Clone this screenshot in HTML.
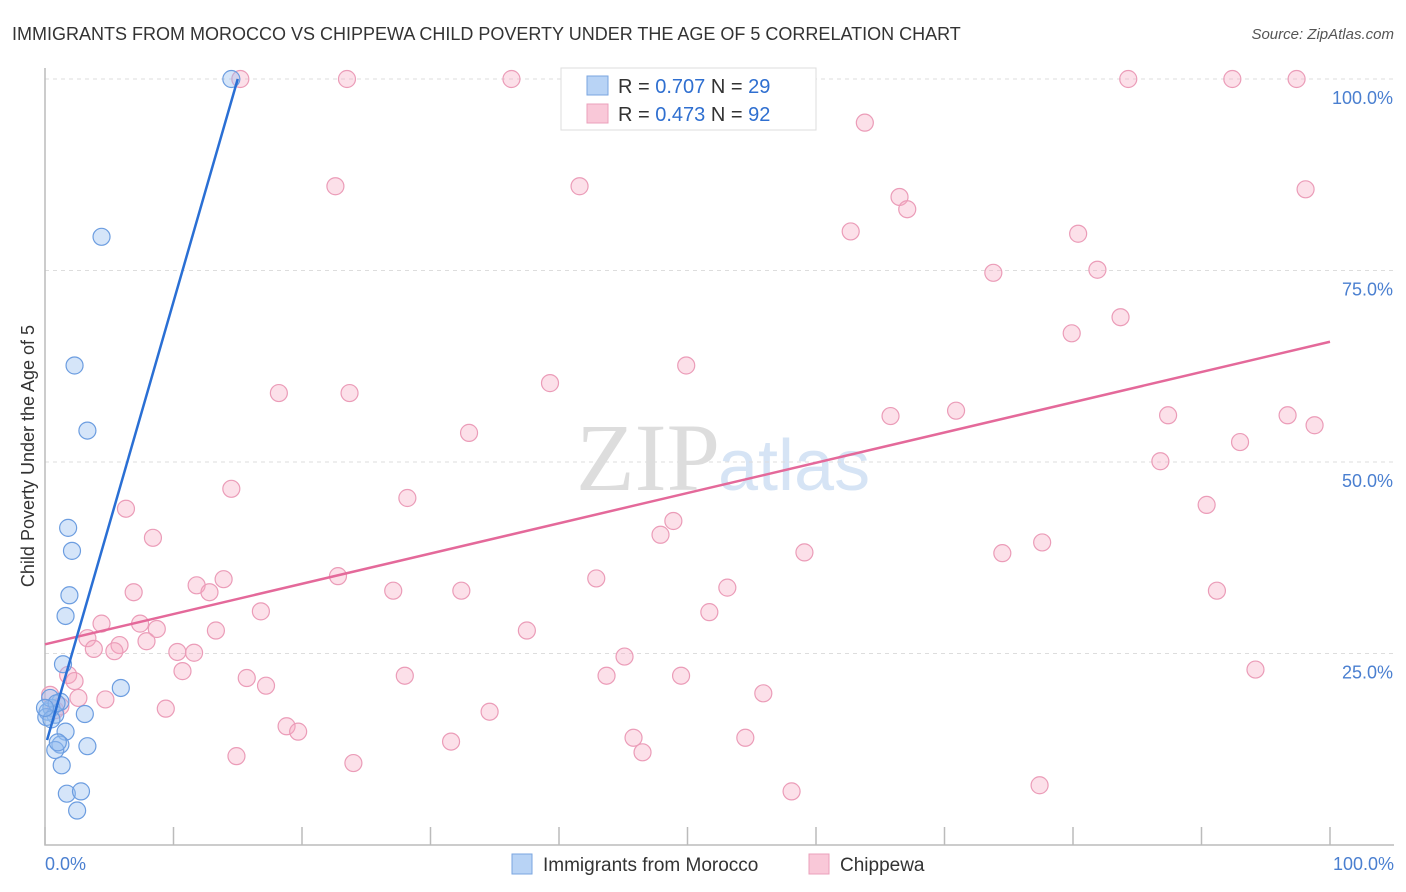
<!DOCTYPE html>
<html><head><meta charset="utf-8"><style>
body{margin:0;background:#fff;font-family:"Liberation Sans",sans-serif}
svg{display:block}
</style></head><body>
<svg id="c" width="1406" height="892">
<text x="12" y="40" font-size="18" fill="#333">IMMIGRANTS FROM MOROCCO VS CHIPPEWA CHILD POVERTY UNDER THE AGE OF 5 CORRELATION CHART</text>
<text x="1394" y="39" font-size="15" fill="#555" font-style="italic" text-anchor="end">Source: ZipAtlas.com</text>
<text x="720" y="490" font-size="96" fill="#ddd" text-anchor="end" font-family="Liberation Serif">ZIP</text>
<text x="718" y="490" font-size="72" fill="#d6e4f5">atlas</text>
<g id="grid"></g><g id="marks"></g>
<text transform="translate(34,456) rotate(-90)" font-size="18" fill="#333" text-anchor="middle">Child Poverty Under the Age of 5</text>
<text x="45" y="870" font-size="18" fill="#4a7fd0">0.0%</text>
<text x="1394" y="870" font-size="18" fill="#4a7fd0" text-anchor="end">100.0%</text>
<g>
<rect x="561" y="68" width="255" height="62" fill="#fff" stroke="#ddd"/>
<rect x="587" y="76" width="21" height="19" fill="#b8d3f5" stroke="#7aa6e0"/>
<rect x="587" y="104" width="21" height="19" fill="#f9c8d8" stroke="#eba0bb"/>
<text x="618" y="93" font-size="20" fill="#333">R = <tspan fill="#2f6fd0">0.707</tspan>   N = <tspan fill="#2f6fd0">29</tspan></text>
<text x="618" y="121" font-size="20" fill="#333">R = <tspan fill="#2f6fd0">0.473</tspan>   N = <tspan fill="#2f6fd0">92</tspan></text>
</g>
<g>
<rect x="512" y="854" width="20" height="20" fill="#b8d3f5" stroke="#7aa6e0"/>
<text x="543" y="871" font-size="19" fill="#333">Immigrants from Morocco</text>
<rect x="809" y="854" width="20" height="20" fill="#f9c8d8" stroke="#eba0bb"/>
<text x="840" y="871" font-size="19" fill="#333">Chippewa</text>
</g>
</svg>
<script>
const yTicks=[25,50,75,100];
const yTickLabels=["25.0%","50.0%","75.0%","100.0%"];
const xTicks=[0,10,20,30,40,50,60,70,80,90,100];
const blueX=[14.5,4.4,2.3,3.3,1.8,2.1,1.9,1.6,1.4,5.9,1.2,0.2,0.5,0.8,3.1,1.6,1.2,3.3,0.8,1.3,1.7,2.8,2.5,0.4,0.9,0.1,0.5,1.0,0.0];
const blueY=[100,79.4,62.6,54.1,41.4,38.4,32.6,29.9,23.6,20.5,18.7,17.4,17.9,17.0,17.1,14.8,13.1,12.9,12.4,10.4,6.7,7.0,4.5,19.2,18.5,16.7,16.4,13.4,17.9];
const pinkX=[15.2,23.5,36.3,84.3,92.4,97.4,63.8,22.6,41.6,98.1,66.5,67.1,62.7,80.4,73.8,81.9,79.9,83.7,49.9,39.3,18.2,23.7,65.8,70.9,87.4,96.7,98.8,93.0,33.0,86.8,14.5,28.2,90.4,6.3,48.9,47.9,8.4,59.1,74.5,77.6,13.9,22.8,42.9,11.8,6.9,12.8,27.1,32.4,53.1,91.2,16.8,51.7,4.4,7.4,8.7,13.3,37.5,3.3,7.9,5.8,3.8,5.4,10.3,11.6,45.1,1.8,10.7,94.2,2.3,15.7,17.2,28.0,43.7,49.5,4.7,2.6,55.9,9.4,34.6,18.8,19.7,45.8,54.5,31.6,14.9,46.5,24.0,58.1,77.4,0.4,0.8,1.2];
const pinkY=[100,100,100,100,100,100,94.3,86.0,86.0,85.6,84.6,83.0,80.1,79.8,74.7,75.1,66.8,68.9,62.6,60.3,59.0,59.0,56.0,56.7,56.1,56.1,54.8,52.6,53.8,50.1,46.5,45.3,44.4,43.9,42.3,40.5,40.1,38.2,38.1,39.5,34.7,35.1,34.8,33.9,33.0,33.0,33.2,33.2,33.6,33.2,30.5,30.4,28.9,28.9,28.2,28.0,28.0,27.0,26.6,26.1,25.6,25.3,25.2,25.1,24.6,22.2,22.7,22.9,21.4,21.8,20.8,22.1,22.1,22.1,19.0,19.2,19.8,17.8,17.4,15.5,14.8,14.0,14.0,13.5,11.6,12.1,10.7,7.0,7.8,19.6,17.6,18.1];
const blueTrend=[[0.16,13.7],[15,100]];
const pinkTrend=[[0,26.2],[100,65.7]];
const X=v=>45+v*12.85, Y=v=>845-v*7.66;
const NS="http://www.w3.org/2000/svg";
const grid=document.getElementById('grid'), marks=document.getElementById('marks');
function mk(tag,attrs,parent){const e=document.createElementNS(NS,tag);for(const k in attrs)e.setAttribute(k,attrs[k]);parent.appendChild(e);return e;}
yTicks.forEach((t,i)=>{
 const l=mk('line',{x1:45,x2:1394,y1:Y(t),y2:Y(t),stroke:'#ddd','stroke-dasharray':'4,4'},grid);
 
 
 const tx=mk('text',{x:1393,y:Y(t)+25,'font-size':18,fill:'#4a7fd0','text-anchor':'end'},grid);
 tx.textContent=yTickLabels[i];
 
 
});
const ax=mk('path',{d:'M45 68V845H1394',fill:'none',stroke:'#bbb','stroke-width':1.5},grid);


xTicks.forEach(t=>{
 const l=mk('line',{x1:X(t),x2:X(t),y1:827,y2:845,stroke:'#bbb','stroke-width':1.5},grid);
 
 
});
pinkX.forEach((x,i)=>{
 const c=mk('circle',{cx:X(x),cy:Y(pinkY[i]),r:8.5,fill:'rgba(245,165,192,0.35)',stroke:'#eb9cb8','stroke-width':1.2},marks);
 
 
});
blueX.forEach((x,i)=>{
 const c=mk('circle',{cx:X(x),cy:Y(blueY[i]),r:8.5,fill:'rgba(150,190,240,0.4)',stroke:'#6c9de0','stroke-width':1.2},marks);
 
 
});
const pl=mk('line',{x1:X(pinkTrend[0][0]),y1:Y(pinkTrend[0][1]),x2:X(pinkTrend[1][0]),y2:Y(pinkTrend[1][1]),stroke:'#e4699a','stroke-width':2.5},marks);


const bl=mk('line',{x1:X(blueTrend[0][0]),y1:Y(blueTrend[0][1]),x2:X(blueTrend[1][0]),y2:Y(blueTrend[1][1]),stroke:'#2a6fd4','stroke-width':2.5},marks);


</script>
</body></html>
